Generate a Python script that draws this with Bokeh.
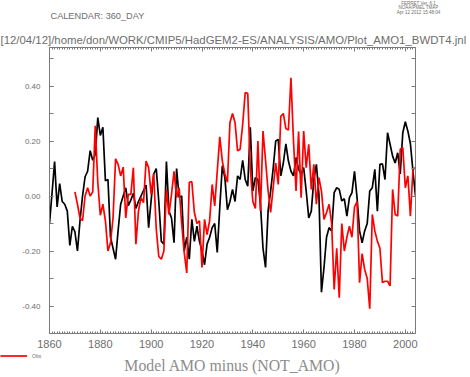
from bokeh.plotting import figure
from bokeh.models import FixedTicker, LinearAxis, Label, Legend, LegendItem, Range1d, PrintfTickFormatter
from bokeh.embed import file_html
from bokeh.resources import INLINE

# ---------------- data ----------------
years_model = list(range(1860, 2005))
amo_model = [
    -0.10, 0.01, 0.125, -0.04, 0.045, -0.02, -0.03, -0.055, -0.18, -0.11,      # 1860s
    -0.13, -0.20, -0.09, 0.00, 0.07, 0.09, 0.165, 0.13, 0.15, 0.285,          # 1870s
    0.22, 0.25, 0.055, 0.06, -0.15, -0.19, -0.23, -0.125, -0.03, 0.00,        # 1880s
    0.03, -0.035, -0.015, 0.01, -0.045, -0.02, 0.00, 0.02, 0.04, -0.115,      # 1890s
    -0.015, 0.08, 0.10, -0.02, -0.165, -0.175, 0.125, -0.055, -0.08, -0.17,   # 1900s
    0.10, -0.005, 0.00, -0.20, -0.15, -0.23, -0.085, -0.165, -0.11, -0.165,   # 1910s
    -0.20, -0.25, -0.175, -0.15, -0.115, -0.10, -0.205, -0.04, 0.11, 0.067,   # 1920s
    -0.05, -0.02, 0.024, -0.02, 0.073, 0.06, 0.13, 0.06, 0.036, 0.25,         # 1930s
    0.018, 0.067, 0.06, -0.03, -0.19, -0.26, -0.055, 0.018, 0.10, 0.20,       # 1940s
    0.206, 0.073, 0.12, 0.19, 0.127, 0.09, 0.073, 0.14, 0.097, 0.08,          # 1950s
    0.103, 0.018, -0.08, -0.055, 0.06, 0.115, 0.006, -0.35, -0.26, -0.15,     # 1960s
    -0.115, -0.127, 0.012, 0.03, 0.024, -0.018, -0.01, -0.073, -0.006, 0.012, # 1970s
    0.09, -0.006, -0.127, -0.17, -0.127, -0.10, 0.018, 0.03, 0.097, -0.055,   # 1980s
    0.115, 0.117, 0.06, 0.23, 0.188, 0.145, 0.12, 0.157, 0.08, 0.23,          # 1990s
    0.27, 0.236, 0.19, 0.09, 0.00,                                            # 2000s
]

years_obs = list(range(1870, 2005))
amo_obs = [
    0.015, -0.03, -0.08, -0.09, 0.00, 0.03, 0.00, 0.015, 0.255, 0.05,         # 1870s
    -0.07, -0.03, -0.09, -0.20, -0.17, -0.08, 0.135, 0.115, 0.073, 0.105,     # 1880s
    -0.08, 0.006, 0.006, 0.103, -0.175, -0.055, -0.006, -0.024, 0.127, 0.103, # 1890s
    0.006, 0.08, -0.12, -0.22, -0.23, -0.20, 0.024, -0.067, 0.006, 0.09,      # 1900s
    -0.006, 0.03, -0.10, -0.205, -0.28, 0.05, 0.052, -0.06, -0.10, -0.09,     # 1910s
    -0.26, -0.085, -0.14, -0.09, 0.042, -0.036, 0.09, 0.215, 0.127, 0.08,     # 1920s
    0.05, 0.267, 0.30, 0.267, 0.164, 0.17, 0.26, 0.376, 0.373, 0.10,          # 1930s
    -0.02, -0.045, 0.20, -0.055, 0.236, 0.13, 0.02, -0.06, 0.03, 0.12,        # 1940s
    0.042, 0.29, 0.30, 0.245, 0.24, 0.43, 0.20, 0.018, 0.234, -0.006,         # 1950s
    0.236, 0.103, 0.188, 0.024, 0.115, -0.03, 0.067, 0.018, -0.085, -0.06,    # 1960s
    -0.03, -0.10, -0.34, -0.19, -0.37, -0.10, -0.20, -0.15, -0.11, -0.15,     # 1970s
    -0.04, -0.02, -0.315, -0.21, -0.267, -0.30, -0.41, -0.067, -0.127, -0.164,# 1980s
    -0.19, -0.315, -0.31, -0.31, -0.327, 0.024, -0.067, -0.073, 0.17, 0.176,  # 1990s
    0.03, 0.073, -0.073, 0.097, 0.103,                                        # 2000s
]

x_major_ticks = [1860, 1880, 1900, 1920, 1940, 1960, 1980, 2000]
x_minor_ticks = list(range(1860, 2005))
y_major_ticks = [-0.4, -0.2, 0.0, 0.2, 0.4]
y_minor_ticks = [-0.5, -0.4, -0.3, -0.2, -0.1, 0.0, 0.1, 0.2, 0.3, 0.4, 0.5]

title_lines = ["CALENDAR: 360_DAY",
               "[12/04/12]/home/don/WORK/CMIP5/HadGEM2-ES/ANALYSIS/AMO/Plot_AMO1_BWDT4.jnl"]
ferret_lines = ["FERRET Ver. 6.1", "NOAA/PMEL TMAP", "Apr 12 2012 15:48:04"]
x_title = "Model AMO minus (NOT_AMO)"
obs_label = "Obs"

# ---------------- layout constants ----------------
W = 470
AX = "#7a7a7a"
TXT = "#6e6e6e"
TOP_H = 46                 # header strip: canvas y 0..46
FL, FR, FT, FB = 49, 55, 1, 20
FRAME_H = 286              # frame: canvas y 47..333
MAIN_H = FT + FRAME_H + FB # canvas y 46..353
BOT_Y0 = TOP_H + MAIN_H    # 353
BOT_H = 377 - BOT_Y0       # 24

def strip(y0, h):
    f = figure(width=W, height=h, output_backend="svg", toolbar_location=None,
               x_range=Range1d(0, W), y_range=Range1d(y0 + h, y0),
               x_axis_location=None, y_axis_location=None,
               min_border=0, min_border_left=0, min_border_right=0,
               min_border_top=0, min_border_bottom=0)
    f.grid.visible = False
    f.outline_line_color = None
    return f

def add_text(f, cx, cy, txt, size, align="left", font="Liberation Sans", color=TXT):
    f.add_layout(Label(x=cx, y=cy, text=txt, text_font=font, text_font_size=size,
                       text_color=color, text_align=align, text_baseline="middle"))

# ---------------- header ----------------
top = strip(0, TOP_H)
add_text(top, 50, 15, title_lines[0], "9.2px")
add_text(top, 0, 39, title_lines[1], "11.4px")
for i, t in enumerate(ferret_lines):
    add_text(top, 418, 3 + i * 4.3, t, "4.5px", align="center")

# ---------------- main plot ----------------
p = figure(width=W, height=MAIN_H, output_backend="svg", toolbar_location=None,
           x_range=Range1d(1860, 2004), y_range=Range1d(-0.5, 0.54),
           min_border_left=FL, min_border_right=FR, min_border_top=FT, min_border_bottom=FB)
p.grid.visible = False
p.outline_line_color = None

def style_axis(ax, ticker, minor_len, label_size="10px", standoff=0):
    ax.ticker = ticker
    ax.axis_line_color = AX
    ax.axis_line_width = 1
    ax.major_tick_line_color = AX
    ax.minor_tick_line_color = AX
    ax.major_tick_in = 4
    ax.major_tick_out = 0
    ax.minor_tick_in = minor_len
    ax.minor_tick_out = 0
    ax.major_label_text_font = "Liberation Sans"
    ax.major_label_text_font_size = label_size
    ax.major_label_text_color = TXT
    ax.major_label_standoff = standoff

xa = p.xaxis[0]
ya = p.yaxis[0]
style_axis(xa, FixedTicker(ticks=x_major_ticks, minor_ticks=x_minor_ticks), 2, "11px", 6)
style_axis(ya, FixedTicker(ticks=y_major_ticks, minor_ticks=y_minor_ticks), 4, "8px", 9)
ya.formatter = PrintfTickFormatter(format="%.2f")

# frame box: right axis (ticks every 0.1) and top axis (yearly ticks + 20-year ticks)
ra = LinearAxis()
style_axis(ra, FixedTicker(ticks=[], minor_ticks=y_minor_ticks), 4)
p.add_layout(ra, "right")
ta = LinearAxis()
style_axis(ta, FixedTicker(ticks=[], minor_ticks=x_minor_ticks), 2)
p.add_layout(ta, "above")
ta2 = LinearAxis()
style_axis(ta2, FixedTicker(ticks=[], minor_ticks=x_major_ticks), 4)
p.add_layout(ta2, "above")

r_model = p.line(years_model, amo_model, line_color="black", line_width=1.7)
r_obs = p.line(years_obs, amo_obs, line_color="red", line_width=1.7)

# ---------------- footer ----------------
bot = strip(BOT_Y0, BOT_H)
add_text(bot, 232, 365, x_title, "15.8px", align="center", font="Liberation Serif", color="#8c8c8c")
# legend key: same series, lying outside this strip's ranges (only its swatch shows)
key = bot.line(years_obs, amo_obs, line_color="red", line_width=1.7)
legend = Legend(items=[LegendItem(label=obs_label, renderers=[key])],
                location=(0, BOT_H - 5.5), padding=0, margin=0, spacing=0,
                glyph_width=27, glyph_height=5, label_height=5, label_standoff=5,
                label_text_font_size="5px", label_text_color=TXT,
                border_line_color=None, background_fill_alpha=0)
bot.add_layout(legend)

# three independent roots stacked vertically (no frame alignment between them)
open("out.html", "w").write(file_html([top, p, bot], INLINE))
